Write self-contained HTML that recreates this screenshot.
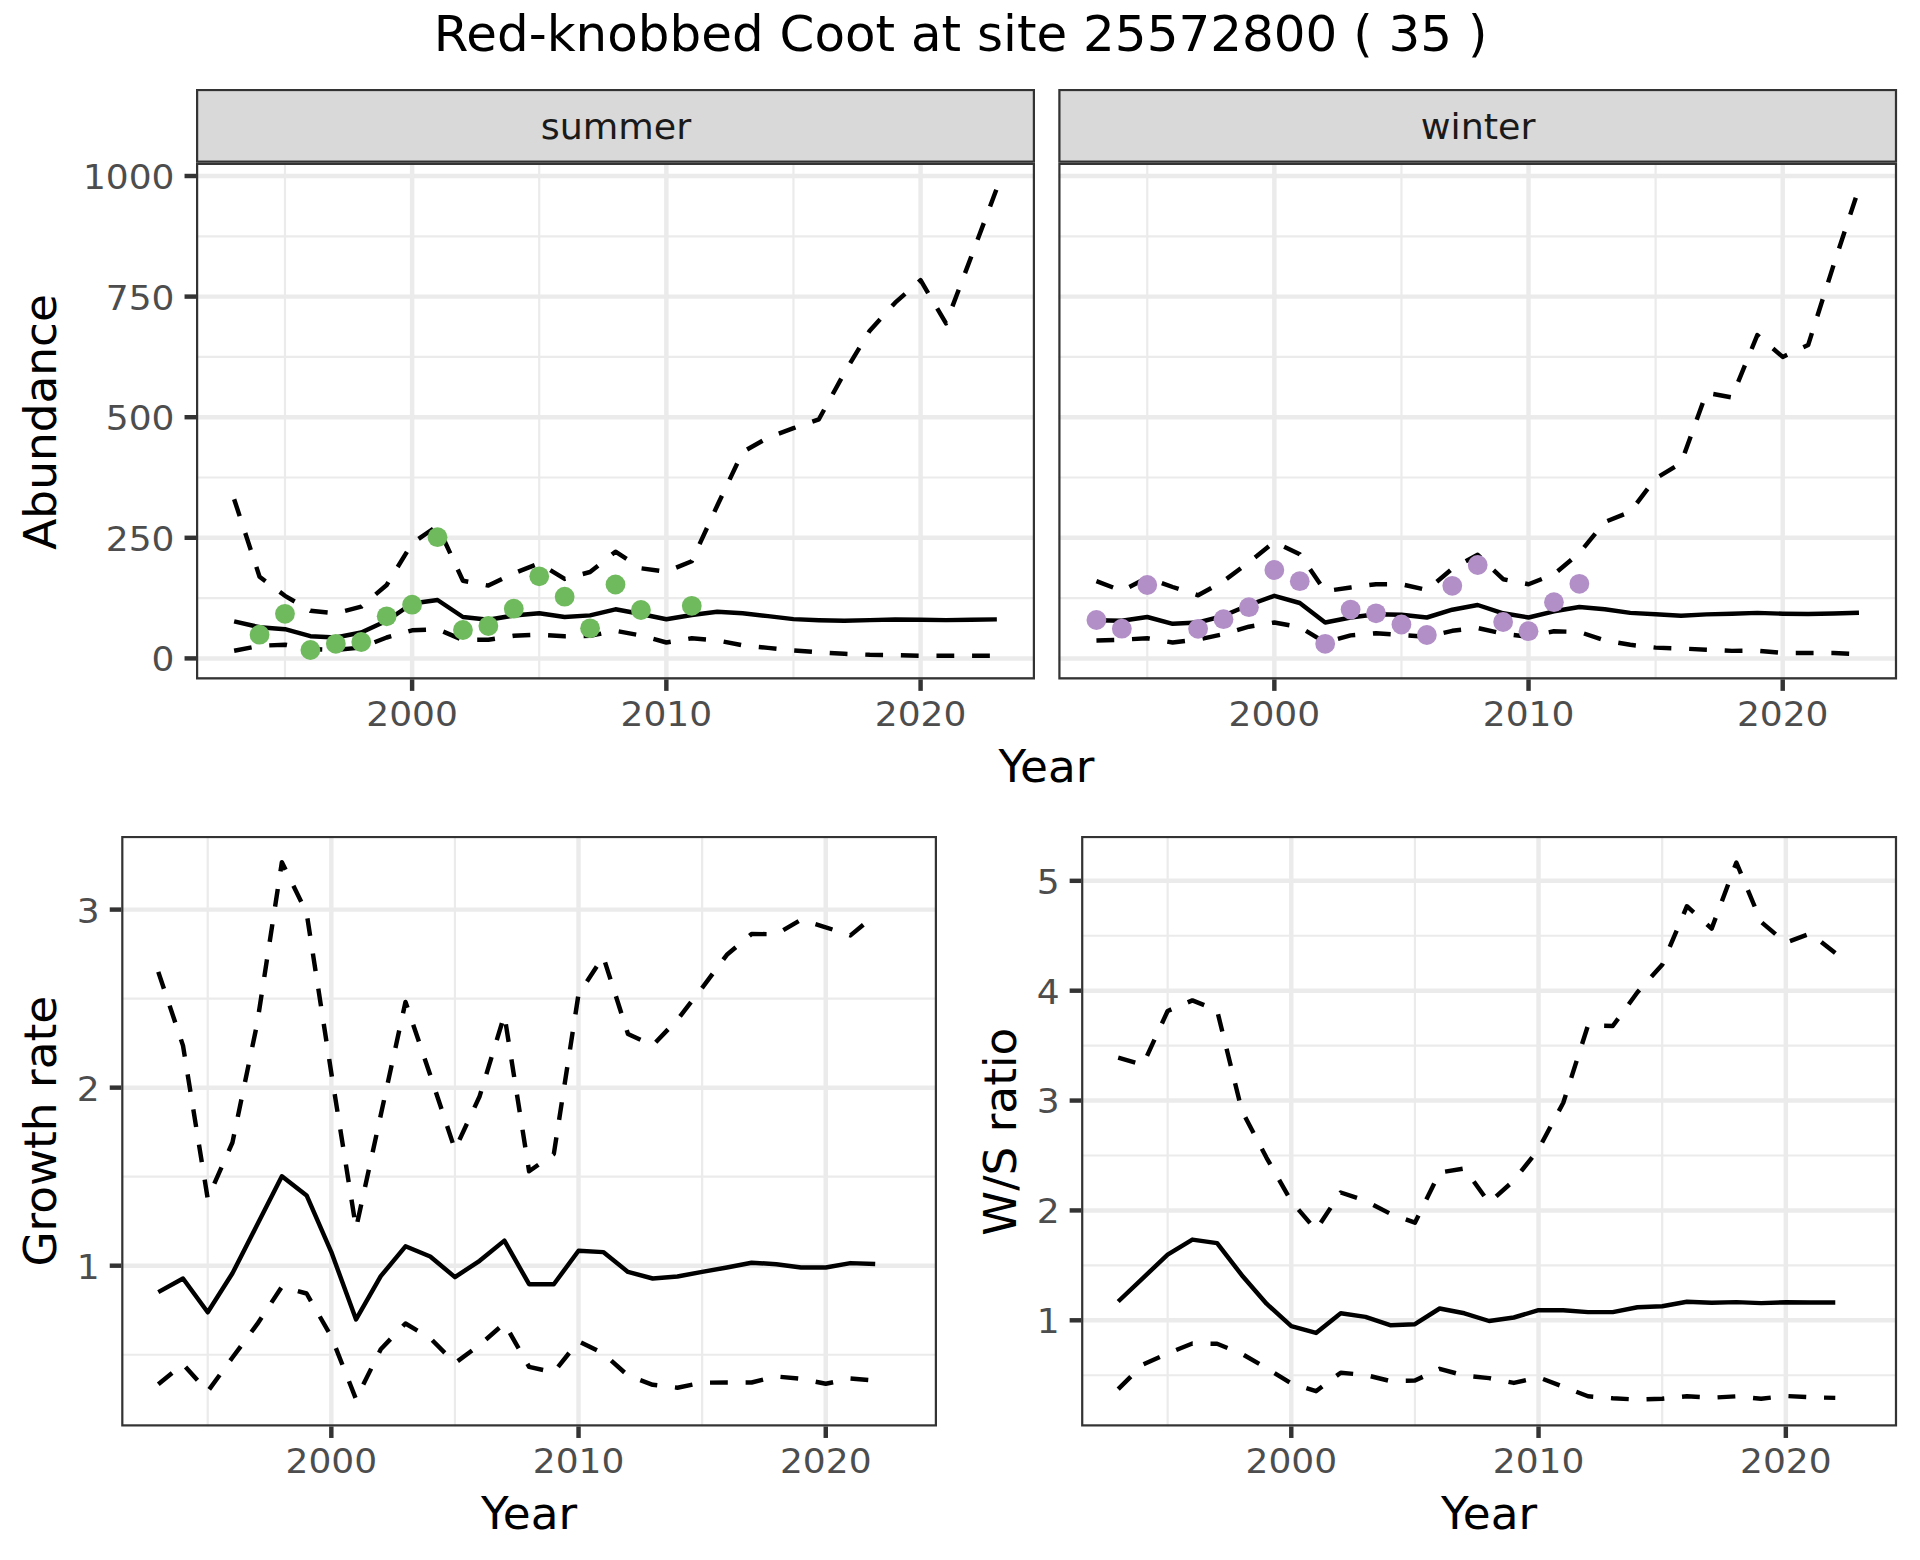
<!DOCTYPE html>
<html lang="en">
<head>
<meta charset="utf-8">
<title>Red-knobbed Coot at site 25572800 ( 35 )</title>
<style>html,body{margin:0;padding:0;background:#fff;overflow:hidden;}svg{display:block;}</style>
</head>
<body>
<svg width="1920" height="1560" viewBox="0 0 1920 1560" font-family='"DejaVu Sans", "Liberation Sans", sans-serif'>
<rect width="1920" height="1560" fill="#FFFFFF"/>
<text transform="translate(960.60,51.10) scale(0.999,1.0)" text-anchor="middle" font-size="50" fill="#000000">Red-knobbed Coot at site 25572800 ( 35 )</text>
<clipPath id="c1"><rect x="196.0" y="162.75" width="839.00" height="516.65"/></clipPath>
<rect x="196.0" y="162.75" width="839.00" height="516.65" fill="#FFFFFF"/>
<g clip-path="url(#c1)">
<line x1="196.0" x2="1035.0" y1="598.10" y2="598.10" stroke="#EBEBEB" stroke-width="2.2"/>
<line x1="196.0" x2="1035.0" y1="477.50" y2="477.50" stroke="#EBEBEB" stroke-width="2.2"/>
<line x1="196.0" x2="1035.0" y1="356.90" y2="356.90" stroke="#EBEBEB" stroke-width="2.2"/>
<line x1="196.0" x2="1035.0" y1="236.30" y2="236.30" stroke="#EBEBEB" stroke-width="2.2"/>
<line y1="162.75" y2="679.4" x1="284.98" x2="284.98" stroke="#EBEBEB" stroke-width="2.2"/>
<line y1="162.75" y2="679.4" x1="539.23" x2="539.23" stroke="#EBEBEB" stroke-width="2.2"/>
<line y1="162.75" y2="679.4" x1="793.47" x2="793.47" stroke="#EBEBEB" stroke-width="2.2"/>
<line x1="196.0" x2="1035.0" y1="658.40" y2="658.40" stroke="#EBEBEB" stroke-width="4.45"/>
<line x1="196.0" x2="1035.0" y1="537.80" y2="537.80" stroke="#EBEBEB" stroke-width="4.45"/>
<line x1="196.0" x2="1035.0" y1="417.20" y2="417.20" stroke="#EBEBEB" stroke-width="4.45"/>
<line x1="196.0" x2="1035.0" y1="296.60" y2="296.60" stroke="#EBEBEB" stroke-width="4.45"/>
<line x1="196.0" x2="1035.0" y1="176.00" y2="176.00" stroke="#EBEBEB" stroke-width="4.45"/>
<line y1="162.75" y2="679.4" x1="412.11" x2="412.11" stroke="#EBEBEB" stroke-width="4.45"/>
<line y1="162.75" y2="679.4" x1="666.35" x2="666.35" stroke="#EBEBEB" stroke-width="4.45"/>
<line y1="162.75" y2="679.4" x1="920.59" x2="920.59" stroke="#EBEBEB" stroke-width="4.45"/>
</g>
<path d="M234.14,621.30 L259.56,627.20 L284.98,629.20 L310.41,636.20 L335.83,637.50 L361.26,632.50 L386.68,620.80 L412.11,603.50 L437.53,600.00 L462.95,617.00 L488.38,619.70 L513.80,615.50 L539.23,613.30 L564.65,617.00 L590.08,615.40 L615.50,609.30 L640.92,614.00 L666.35,619.20 L691.77,615.00 L717.20,611.70 L742.62,613.30 L768.05,616.10 L793.47,619.10 L818.89,620.20 L844.32,620.80 L869.74,620.10 L895.17,619.50 L920.59,619.80 L946.02,620.10 L971.44,619.80 L996.86,619.40" fill="none" stroke="#000000" stroke-width="4.45" stroke-linejoin="round" stroke-linecap="butt" clip-path="url(#c1)"/>
<path d="M234.14,650.80 L259.56,645.80 L284.98,644.70 L310.41,649.00 L335.83,650.00 L361.26,647.50 L386.68,637.50 L412.11,630.30 L437.53,629.20 L462.95,640.00 L488.38,639.70 L513.80,635.80 L539.23,634.70 L564.65,636.20 L590.08,635.80 L615.50,630.80 L640.92,635.50 L666.35,642.50 L691.77,638.30 L717.20,640.30 L742.62,645.30 L768.05,647.90 L793.47,650.40 L818.89,652.30 L844.32,653.80 L869.74,654.80 L895.17,655.20 L920.59,655.70 L946.02,655.80 L971.44,655.80 L996.86,655.80" fill="none" stroke="#000000" stroke-width="4.45" stroke-linejoin="round" stroke-linecap="butt" stroke-dasharray="17.8 17.8" clip-path="url(#c1)"/>
<path d="M234.14,499.20 L259.56,576.70 L284.98,595.80 L310.41,610.80 L335.83,613.30 L361.26,606.70 L386.68,585.00 L412.11,543.30 L437.53,525.80 L462.95,580.80 L488.38,585.60 L513.80,573.30 L539.23,563.30 L564.65,578.90 L590.08,572.00 L615.50,551.70 L640.92,568.30 L666.35,571.70 L691.77,561.20 L717.20,505.70 L742.62,452.10 L768.05,437.60 L793.47,428.20 L818.89,419.30 L844.32,373.00 L869.74,330.70 L895.17,302.70 L920.59,280.20 L946.02,323.40 L971.44,256.10 L996.86,188.30" fill="none" stroke="#000000" stroke-width="4.45" stroke-linejoin="round" stroke-linecap="butt" stroke-dasharray="17.8 17.8" clip-path="url(#c1)"/>
<circle cx="259.56" cy="634.70" r="9.9" fill="#70BA5E"/>
<circle cx="284.98" cy="613.80" r="9.9" fill="#70BA5E"/>
<circle cx="310.41" cy="650.00" r="9.9" fill="#70BA5E"/>
<circle cx="335.83" cy="643.80" r="9.9" fill="#70BA5E"/>
<circle cx="361.26" cy="642.00" r="9.9" fill="#70BA5E"/>
<circle cx="386.68" cy="616.30" r="9.9" fill="#70BA5E"/>
<circle cx="412.11" cy="604.70" r="9.9" fill="#70BA5E"/>
<circle cx="437.53" cy="537.20" r="9.9" fill="#70BA5E"/>
<circle cx="462.95" cy="630.00" r="9.9" fill="#70BA5E"/>
<circle cx="488.38" cy="626.00" r="9.9" fill="#70BA5E"/>
<circle cx="513.80" cy="608.70" r="9.9" fill="#70BA5E"/>
<circle cx="539.23" cy="576.30" r="9.9" fill="#70BA5E"/>
<circle cx="564.65" cy="596.70" r="9.9" fill="#70BA5E"/>
<circle cx="590.08" cy="628.30" r="9.9" fill="#70BA5E"/>
<circle cx="615.50" cy="584.50" r="9.9" fill="#70BA5E"/>
<circle cx="640.92" cy="610.00" r="9.9" fill="#70BA5E"/>
<circle cx="691.77" cy="605.80" r="9.9" fill="#70BA5E"/>
<rect x="196.0" y="162.75" width="839.00" height="516.65" fill="none" stroke="#333333" stroke-width="4.45" clip-path="url(#c1)"/>
<clipPath id="c2"><rect x="196.0" y="88.9" width="839.00" height="73.85"/></clipPath>
<rect x="196.0" y="88.9" width="839.00" height="73.85" fill="#D9D9D9" stroke="#333333" stroke-width="4.45" clip-path="url(#c2)"/>
<text transform="translate(615.90,138.80) scale(0.994,0.95)" text-anchor="middle" font-size="36.67" fill="#1A1A1A">summer</text>
<line x1="412.11" x2="412.11" y1="679.4" y2="690.86" stroke="#333333" stroke-width="4.45"/>
<text transform="translate(412.11,725.80) scale(0.982,0.935)" text-anchor="middle" font-size="36.67" fill="#4D4D4D">2000</text>
<line x1="666.35" x2="666.35" y1="679.4" y2="690.86" stroke="#333333" stroke-width="4.45"/>
<text transform="translate(666.35,725.80) scale(0.982,0.935)" text-anchor="middle" font-size="36.67" fill="#4D4D4D">2010</text>
<line x1="920.59" x2="920.59" y1="679.4" y2="690.86" stroke="#333333" stroke-width="4.45"/>
<text transform="translate(920.59,725.80) scale(0.982,0.935)" text-anchor="middle" font-size="36.67" fill="#4D4D4D">2020</text>
<line x1="184.54" x2="196.0" y1="658.40" y2="658.40" stroke="#333333" stroke-width="4.45"/>
<text transform="translate(174.50,671.30) scale(0.982,0.935)" text-anchor="end" font-size="36.67" fill="#4D4D4D">0</text>
<line x1="184.54" x2="196.0" y1="537.80" y2="537.80" stroke="#333333" stroke-width="4.45"/>
<text transform="translate(174.50,550.70) scale(0.982,0.935)" text-anchor="end" font-size="36.67" fill="#4D4D4D">250</text>
<line x1="184.54" x2="196.0" y1="417.20" y2="417.20" stroke="#333333" stroke-width="4.45"/>
<text transform="translate(174.50,430.10) scale(0.982,0.935)" text-anchor="end" font-size="36.67" fill="#4D4D4D">500</text>
<line x1="184.54" x2="196.0" y1="296.60" y2="296.60" stroke="#333333" stroke-width="4.45"/>
<text transform="translate(174.50,309.50) scale(0.982,0.935)" text-anchor="end" font-size="36.67" fill="#4D4D4D">750</text>
<line x1="184.54" x2="196.0" y1="176.00" y2="176.00" stroke="#333333" stroke-width="4.45"/>
<text transform="translate(174.50,188.90) scale(0.982,0.935)" text-anchor="end" font-size="36.67" fill="#4D4D4D">1000</text>
<clipPath id="c3"><rect x="1058.3" y="162.75" width="838.80" height="516.65"/></clipPath>
<rect x="1058.3" y="162.75" width="838.80" height="516.65" fill="#FFFFFF"/>
<g clip-path="url(#c3)">
<line x1="1058.3" x2="1897.1" y1="598.10" y2="598.10" stroke="#EBEBEB" stroke-width="2.2"/>
<line x1="1058.3" x2="1897.1" y1="477.50" y2="477.50" stroke="#EBEBEB" stroke-width="2.2"/>
<line x1="1058.3" x2="1897.1" y1="356.90" y2="356.90" stroke="#EBEBEB" stroke-width="2.2"/>
<line x1="1058.3" x2="1897.1" y1="236.30" y2="236.30" stroke="#EBEBEB" stroke-width="2.2"/>
<line y1="162.75" y2="679.4" x1="1147.26" x2="1147.26" stroke="#EBEBEB" stroke-width="2.2"/>
<line y1="162.75" y2="679.4" x1="1401.45" x2="1401.45" stroke="#EBEBEB" stroke-width="2.2"/>
<line y1="162.75" y2="679.4" x1="1655.63" x2="1655.63" stroke="#EBEBEB" stroke-width="2.2"/>
<line x1="1058.3" x2="1897.1" y1="658.40" y2="658.40" stroke="#EBEBEB" stroke-width="4.45"/>
<line x1="1058.3" x2="1897.1" y1="537.80" y2="537.80" stroke="#EBEBEB" stroke-width="4.45"/>
<line x1="1058.3" x2="1897.1" y1="417.20" y2="417.20" stroke="#EBEBEB" stroke-width="4.45"/>
<line x1="1058.3" x2="1897.1" y1="296.60" y2="296.60" stroke="#EBEBEB" stroke-width="4.45"/>
<line x1="1058.3" x2="1897.1" y1="176.00" y2="176.00" stroke="#EBEBEB" stroke-width="4.45"/>
<line y1="162.75" y2="679.4" x1="1274.35" x2="1274.35" stroke="#EBEBEB" stroke-width="4.45"/>
<line y1="162.75" y2="679.4" x1="1528.54" x2="1528.54" stroke="#EBEBEB" stroke-width="4.45"/>
<line y1="162.75" y2="679.4" x1="1782.72" x2="1782.72" stroke="#EBEBEB" stroke-width="4.45"/>
</g>
<path d="M1096.43,620.30 L1121.85,620.80 L1147.26,617.00 L1172.68,623.80 L1198.10,622.50 L1223.52,615.80 L1248.94,605.00 L1274.35,595.80 L1299.77,603.00 L1325.19,622.50 L1350.61,617.50 L1376.03,614.20 L1401.45,614.70 L1426.86,617.50 L1452.28,609.70 L1477.70,605.00 L1503.12,613.30 L1528.54,617.50 L1553.95,611.30 L1579.37,607.00 L1604.79,609.20 L1630.21,612.90 L1655.63,614.30 L1681.05,615.70 L1706.46,614.40 L1731.88,613.70 L1757.30,612.90 L1782.72,613.70 L1808.14,614.00 L1833.55,613.50 L1858.97,612.80" fill="none" stroke="#000000" stroke-width="4.45" stroke-linejoin="round" stroke-linecap="butt" clip-path="url(#c3)"/>
<path d="M1096.43,640.50 L1121.85,639.70 L1147.26,638.30 L1172.68,642.50 L1198.10,639.50 L1223.52,634.20 L1248.94,626.70 L1274.35,622.50 L1299.77,627.20 L1325.19,642.50 L1350.61,635.40 L1376.03,633.30 L1401.45,635.00 L1426.86,636.70 L1452.28,630.80 L1477.70,628.00 L1503.12,633.70 L1528.54,636.70 L1553.95,631.30 L1579.37,632.00 L1604.79,640.30 L1630.21,644.80 L1655.63,647.60 L1681.05,648.50 L1706.46,649.70 L1731.88,650.90 L1757.30,650.70 L1782.72,653.00 L1808.14,653.00 L1833.55,653.00 L1858.97,654.10" fill="none" stroke="#000000" stroke-width="4.45" stroke-linejoin="round" stroke-linecap="butt" stroke-dasharray="17.8 17.8" clip-path="url(#c3)"/>
<path d="M1096.43,581.20 L1121.85,590.80 L1147.26,577.80 L1172.68,587.00 L1198.10,595.30 L1223.52,581.20 L1248.94,562.20 L1274.35,542.00 L1299.77,554.20 L1325.19,591.20 L1350.61,587.50 L1376.03,584.20 L1401.45,584.20 L1426.86,590.00 L1452.28,568.70 L1477.70,554.80 L1503.12,579.20 L1528.54,584.20 L1553.95,574.20 L1579.37,553.20 L1604.79,522.00 L1630.21,511.90 L1655.63,478.40 L1681.05,463.10 L1706.46,392.80 L1731.88,397.40 L1757.30,335.10 L1782.72,356.90 L1808.14,345.10 L1833.55,265.10 L1858.97,188.20" fill="none" stroke="#000000" stroke-width="4.45" stroke-linejoin="round" stroke-linecap="butt" stroke-dasharray="17.8 17.8" clip-path="url(#c3)"/>
<circle cx="1096.43" cy="620.00" r="9.9" fill="#B28FC7"/>
<circle cx="1121.85" cy="628.70" r="9.9" fill="#B28FC7"/>
<circle cx="1147.26" cy="585.00" r="9.9" fill="#B28FC7"/>
<circle cx="1198.10" cy="628.80" r="9.9" fill="#B28FC7"/>
<circle cx="1223.52" cy="619.20" r="9.9" fill="#B28FC7"/>
<circle cx="1248.94" cy="607.20" r="9.9" fill="#B28FC7"/>
<circle cx="1274.35" cy="570.00" r="9.9" fill="#B28FC7"/>
<circle cx="1299.77" cy="581.20" r="9.9" fill="#B28FC7"/>
<circle cx="1325.19" cy="643.80" r="9.9" fill="#B28FC7"/>
<circle cx="1350.61" cy="609.60" r="9.9" fill="#B28FC7"/>
<circle cx="1376.03" cy="613.30" r="9.9" fill="#B28FC7"/>
<circle cx="1401.45" cy="624.50" r="9.9" fill="#B28FC7"/>
<circle cx="1426.86" cy="635.00" r="9.9" fill="#B28FC7"/>
<circle cx="1452.28" cy="585.80" r="9.9" fill="#B28FC7"/>
<circle cx="1477.70" cy="565.00" r="9.9" fill="#B28FC7"/>
<circle cx="1503.12" cy="622.00" r="9.9" fill="#B28FC7"/>
<circle cx="1528.54" cy="631.20" r="9.9" fill="#B28FC7"/>
<circle cx="1553.95" cy="602.20" r="9.9" fill="#B28FC7"/>
<circle cx="1579.37" cy="583.80" r="9.9" fill="#B28FC7"/>
<rect x="1058.3" y="162.75" width="838.80" height="516.65" fill="none" stroke="#333333" stroke-width="4.45" clip-path="url(#c3)"/>
<clipPath id="c4"><rect x="1058.3" y="88.9" width="838.80" height="73.85"/></clipPath>
<rect x="1058.3" y="88.9" width="838.80" height="73.85" fill="#D9D9D9" stroke="#333333" stroke-width="4.45" clip-path="url(#c4)"/>
<text transform="translate(1478.10,138.80) scale(0.994,0.95)" text-anchor="middle" font-size="36.67" fill="#1A1A1A">winter</text>
<line x1="1274.35" x2="1274.35" y1="679.4" y2="690.86" stroke="#333333" stroke-width="4.45"/>
<text transform="translate(1274.35,725.80) scale(0.982,0.935)" text-anchor="middle" font-size="36.67" fill="#4D4D4D">2000</text>
<line x1="1528.54" x2="1528.54" y1="679.4" y2="690.86" stroke="#333333" stroke-width="4.45"/>
<text transform="translate(1528.54,725.80) scale(0.982,0.935)" text-anchor="middle" font-size="36.67" fill="#4D4D4D">2010</text>
<line x1="1782.72" x2="1782.72" y1="679.4" y2="690.86" stroke="#333333" stroke-width="4.45"/>
<text transform="translate(1782.72,725.80) scale(0.982,0.935)" text-anchor="middle" font-size="36.67" fill="#4D4D4D">2020</text>
<text transform="translate(1046.40,782.20) scale(0.99,0.965)" text-anchor="middle" font-size="45.83" fill="#000000">Year</text>
<text transform="translate(56.20,421.90) rotate(-90) scale(0.99,0.965)" text-anchor="middle" font-size="45.83" fill="#000000">Abundance</text>
<clipPath id="c5"><rect x="121.2" y="835.9" width="815.80" height="590.60"/></clipPath>
<rect x="121.2" y="835.9" width="815.80" height="590.60" fill="#FFFFFF"/>
<g clip-path="url(#c5)">
<line x1="121.2" x2="937.0" y1="1354.73" y2="1354.73" stroke="#EBEBEB" stroke-width="2.2"/>
<line x1="121.2" x2="937.0" y1="1176.67" y2="1176.67" stroke="#EBEBEB" stroke-width="2.2"/>
<line x1="121.2" x2="937.0" y1="998.62" y2="998.62" stroke="#EBEBEB" stroke-width="2.2"/>
<line y1="835.9" y2="1426.5" x1="207.72" x2="207.72" stroke="#EBEBEB" stroke-width="2.2"/>
<line y1="835.9" y2="1426.5" x1="454.94" x2="454.94" stroke="#EBEBEB" stroke-width="2.2"/>
<line y1="835.9" y2="1426.5" x1="702.15" x2="702.15" stroke="#EBEBEB" stroke-width="2.2"/>
<line x1="121.2" x2="937.0" y1="1265.70" y2="1265.70" stroke="#EBEBEB" stroke-width="4.45"/>
<line x1="121.2" x2="937.0" y1="1087.65" y2="1087.65" stroke="#EBEBEB" stroke-width="4.45"/>
<line x1="121.2" x2="937.0" y1="909.60" y2="909.60" stroke="#EBEBEB" stroke-width="4.45"/>
<line y1="835.9" y2="1426.5" x1="331.33" x2="331.33" stroke="#EBEBEB" stroke-width="4.45"/>
<line y1="835.9" y2="1426.5" x1="578.54" x2="578.54" stroke="#EBEBEB" stroke-width="4.45"/>
<line y1="835.9" y2="1426.5" x1="825.75" x2="825.75" stroke="#EBEBEB" stroke-width="4.45"/>
</g>
<path d="M158.28,1292.10 L183.00,1278.50 L207.72,1312.30 L232.45,1273.30 L257.17,1224.80 L281.89,1176.20 L306.61,1195.40 L331.33,1252.10 L356.05,1319.40 L380.77,1276.20 L405.49,1246.30 L430.22,1256.50 L454.94,1277.10 L479.66,1260.80 L504.38,1240.60 L529.10,1284.20 L553.82,1284.20 L578.54,1250.80 L603.26,1252.10 L627.98,1271.90 L652.71,1278.50 L677.43,1276.50 L702.15,1271.90 L726.87,1267.50 L751.59,1262.70 L776.31,1264.20 L801.03,1267.50 L825.75,1267.50 L850.48,1263.10 L875.20,1264.00" fill="none" stroke="#000000" stroke-width="4.45" stroke-linejoin="round" stroke-linecap="butt" clip-path="url(#c5)"/>
<path d="M158.28,1384.20 L183.00,1364.20 L207.72,1391.50 L232.45,1357.50 L257.17,1324.20 L281.89,1286.70 L306.61,1293.50 L331.33,1336.70 L356.05,1399.20 L380.77,1349.20 L405.49,1323.50 L430.22,1338.10 L454.94,1363.10 L479.66,1345.00 L504.38,1323.30 L529.10,1366.90 L553.82,1372.30 L578.54,1341.20 L603.26,1353.50 L627.98,1375.60 L652.71,1384.80 L677.43,1387.70 L702.15,1382.70 L726.87,1382.50 L751.59,1382.50 L776.31,1376.50 L801.03,1378.80 L825.75,1383.80 L850.48,1378.50 L875.20,1380.60" fill="none" stroke="#000000" stroke-width="4.45" stroke-linejoin="round" stroke-linecap="butt" stroke-dasharray="17.8 17.8" clip-path="url(#c5)"/>
<path d="M158.28,971.90 L183.00,1045.60 L207.72,1198.70 L232.45,1142.50 L257.17,1023.50 L281.89,862.20 L306.61,912.90 L331.33,1073.10 L356.05,1228.30 L380.77,1115.00 L405.49,1001.90 L430.22,1075.00 L454.94,1149.60 L479.66,1096.20 L504.38,1015.00 L529.10,1171.30 L553.82,1154.00 L578.54,994.20 L603.26,956.70 L627.98,1034.00 L652.71,1045.40 L677.43,1019.60 L702.15,987.90 L726.87,954.80 L751.59,934.00 L776.31,934.20 L801.03,919.80 L825.75,927.30 L850.48,935.40 L875.20,915.00" fill="none" stroke="#000000" stroke-width="4.45" stroke-linejoin="round" stroke-linecap="butt" stroke-dasharray="17.8 17.8" clip-path="url(#c5)"/>
<rect x="121.2" y="835.9" width="815.80" height="590.60" fill="none" stroke="#333333" stroke-width="4.45" clip-path="url(#c5)"/>
<line x1="331.33" x2="331.33" y1="1426.5" y2="1437.96" stroke="#333333" stroke-width="4.45"/>
<text transform="translate(331.33,1472.90) scale(0.982,0.935)" text-anchor="middle" font-size="36.67" fill="#4D4D4D">2000</text>
<line x1="578.54" x2="578.54" y1="1426.5" y2="1437.96" stroke="#333333" stroke-width="4.45"/>
<text transform="translate(578.54,1472.90) scale(0.982,0.935)" text-anchor="middle" font-size="36.67" fill="#4D4D4D">2010</text>
<line x1="825.75" x2="825.75" y1="1426.5" y2="1437.96" stroke="#333333" stroke-width="4.45"/>
<text transform="translate(825.75,1472.90) scale(0.982,0.935)" text-anchor="middle" font-size="36.67" fill="#4D4D4D">2020</text>
<line x1="109.74" x2="121.2" y1="1265.70" y2="1265.70" stroke="#333333" stroke-width="4.45"/>
<text transform="translate(99.70,1278.60) scale(0.982,0.935)" text-anchor="end" font-size="36.67" fill="#4D4D4D">1</text>
<line x1="109.74" x2="121.2" y1="1087.65" y2="1087.65" stroke="#333333" stroke-width="4.45"/>
<text transform="translate(99.70,1100.55) scale(0.982,0.935)" text-anchor="end" font-size="36.67" fill="#4D4D4D">2</text>
<line x1="109.74" x2="121.2" y1="909.60" y2="909.60" stroke="#333333" stroke-width="4.45"/>
<text transform="translate(99.70,922.50) scale(0.982,0.935)" text-anchor="end" font-size="36.67" fill="#4D4D4D">3</text>
<text transform="translate(529.10,1529.00) scale(0.99,0.965)" text-anchor="middle" font-size="45.83" fill="#000000">Year</text>
<text transform="translate(55.80,1131.20) rotate(-90) scale(0.99,0.965)" text-anchor="middle" font-size="45.83" fill="#000000">Growth rate</text>
<clipPath id="c6"><rect x="1081.1" y="835.9" width="816.00" height="590.60"/></clipPath>
<rect x="1081.1" y="835.9" width="816.00" height="590.60" fill="#FFFFFF"/>
<g clip-path="url(#c6)">
<line x1="1081.1" x2="1897.1" y1="1375.23" y2="1375.23" stroke="#EBEBEB" stroke-width="2.2"/>
<line x1="1081.1" x2="1897.1" y1="1265.37" y2="1265.37" stroke="#EBEBEB" stroke-width="2.2"/>
<line x1="1081.1" x2="1897.1" y1="1155.49" y2="1155.49" stroke="#EBEBEB" stroke-width="2.2"/>
<line x1="1081.1" x2="1897.1" y1="1045.62" y2="1045.62" stroke="#EBEBEB" stroke-width="2.2"/>
<line x1="1081.1" x2="1897.1" y1="935.75" y2="935.75" stroke="#EBEBEB" stroke-width="2.2"/>
<line y1="835.9" y2="1426.5" x1="1167.65" x2="1167.65" stroke="#EBEBEB" stroke-width="2.2"/>
<line y1="835.9" y2="1426.5" x1="1414.92" x2="1414.92" stroke="#EBEBEB" stroke-width="2.2"/>
<line y1="835.9" y2="1426.5" x1="1662.19" x2="1662.19" stroke="#EBEBEB" stroke-width="2.2"/>
<line x1="1081.1" x2="1897.1" y1="1320.30" y2="1320.30" stroke="#EBEBEB" stroke-width="4.45"/>
<line x1="1081.1" x2="1897.1" y1="1210.43" y2="1210.43" stroke="#EBEBEB" stroke-width="4.45"/>
<line x1="1081.1" x2="1897.1" y1="1100.56" y2="1100.56" stroke="#EBEBEB" stroke-width="4.45"/>
<line x1="1081.1" x2="1897.1" y1="990.69" y2="990.69" stroke="#EBEBEB" stroke-width="4.45"/>
<line x1="1081.1" x2="1897.1" y1="880.82" y2="880.82" stroke="#EBEBEB" stroke-width="4.45"/>
<line y1="835.9" y2="1426.5" x1="1291.28" x2="1291.28" stroke="#EBEBEB" stroke-width="4.45"/>
<line y1="835.9" y2="1426.5" x1="1538.55" x2="1538.55" stroke="#EBEBEB" stroke-width="4.45"/>
<line y1="835.9" y2="1426.5" x1="1785.83" x2="1785.83" stroke="#EBEBEB" stroke-width="4.45"/>
</g>
<path d="M1118.19,1301.50 L1142.92,1278.10 L1167.65,1254.60 L1192.37,1239.60 L1217.10,1243.10 L1241.83,1275.20 L1266.55,1303.70 L1291.28,1326.20 L1316.01,1332.90 L1340.74,1313.30 L1365.46,1316.90 L1390.19,1325.20 L1414.92,1324.20 L1439.65,1308.50 L1464.37,1313.30 L1489.10,1321.00 L1513.83,1317.50 L1538.55,1310.20 L1563.28,1310.20 L1588.01,1312.10 L1612.74,1312.10 L1637.46,1307.30 L1662.19,1306.30 L1686.92,1301.70 L1711.65,1302.70 L1736.37,1302.10 L1761.10,1303.10 L1785.83,1302.30 L1810.55,1302.50 L1835.28,1302.50" fill="none" stroke="#000000" stroke-width="4.45" stroke-linejoin="round" stroke-linecap="butt" clip-path="url(#c6)"/>
<path d="M1118.19,1389.20 L1142.92,1364.60 L1167.65,1353.50 L1192.37,1343.50 L1217.10,1343.80 L1241.83,1353.80 L1266.55,1368.10 L1291.28,1383.50 L1316.01,1391.20 L1340.74,1372.70 L1365.46,1375.00 L1390.19,1381.00 L1414.92,1380.60 L1439.65,1368.80 L1464.37,1375.60 L1489.10,1378.10 L1513.83,1382.90 L1538.55,1377.30 L1563.28,1386.70 L1588.01,1396.30 L1612.74,1398.30 L1637.46,1399.60 L1662.19,1398.70 L1686.92,1396.30 L1711.65,1397.70 L1736.37,1396.30 L1761.10,1398.70 L1785.83,1396.00 L1810.55,1397.30 L1835.28,1397.90" fill="none" stroke="#000000" stroke-width="4.45" stroke-linejoin="round" stroke-linecap="butt" stroke-dasharray="17.8 17.8" clip-path="url(#c6)"/>
<path d="M1118.19,1057.70 L1142.92,1064.80 L1167.65,1011.00 L1192.37,1000.40 L1217.10,1010.40 L1241.83,1110.60 L1266.55,1157.80 L1291.28,1201.20 L1316.01,1230.00 L1340.74,1192.50 L1365.46,1200.80 L1390.19,1213.70 L1414.92,1222.70 L1439.65,1172.50 L1464.37,1168.50 L1489.10,1202.70 L1513.83,1180.60 L1538.55,1149.20 L1563.28,1102.70 L1588.01,1025.40 L1612.74,1026.00 L1637.46,992.30 L1662.19,964.80 L1686.92,906.20 L1711.65,928.60 L1736.37,862.50 L1761.10,921.90 L1785.83,942.70 L1810.55,933.50 L1835.28,952.90" fill="none" stroke="#000000" stroke-width="4.45" stroke-linejoin="round" stroke-linecap="butt" stroke-dasharray="17.8 17.8" clip-path="url(#c6)"/>
<rect x="1081.1" y="835.9" width="816.00" height="590.60" fill="none" stroke="#333333" stroke-width="4.45" clip-path="url(#c6)"/>
<line x1="1291.28" x2="1291.28" y1="1426.5" y2="1437.96" stroke="#333333" stroke-width="4.45"/>
<text transform="translate(1291.28,1472.90) scale(0.982,0.935)" text-anchor="middle" font-size="36.67" fill="#4D4D4D">2000</text>
<line x1="1538.55" x2="1538.55" y1="1426.5" y2="1437.96" stroke="#333333" stroke-width="4.45"/>
<text transform="translate(1538.55,1472.90) scale(0.982,0.935)" text-anchor="middle" font-size="36.67" fill="#4D4D4D">2010</text>
<line x1="1785.83" x2="1785.83" y1="1426.5" y2="1437.96" stroke="#333333" stroke-width="4.45"/>
<text transform="translate(1785.83,1472.90) scale(0.982,0.935)" text-anchor="middle" font-size="36.67" fill="#4D4D4D">2020</text>
<line x1="1069.64" x2="1081.1" y1="1320.30" y2="1320.30" stroke="#333333" stroke-width="4.45"/>
<text transform="translate(1059.60,1333.20) scale(0.982,0.935)" text-anchor="end" font-size="36.67" fill="#4D4D4D">1</text>
<line x1="1069.64" x2="1081.1" y1="1210.43" y2="1210.43" stroke="#333333" stroke-width="4.45"/>
<text transform="translate(1059.60,1223.33) scale(0.982,0.935)" text-anchor="end" font-size="36.67" fill="#4D4D4D">2</text>
<line x1="1069.64" x2="1081.1" y1="1100.56" y2="1100.56" stroke="#333333" stroke-width="4.45"/>
<text transform="translate(1059.60,1113.46) scale(0.982,0.935)" text-anchor="end" font-size="36.67" fill="#4D4D4D">3</text>
<line x1="1069.64" x2="1081.1" y1="990.69" y2="990.69" stroke="#333333" stroke-width="4.45"/>
<text transform="translate(1059.60,1003.59) scale(0.982,0.935)" text-anchor="end" font-size="36.67" fill="#4D4D4D">4</text>
<line x1="1069.64" x2="1081.1" y1="880.82" y2="880.82" stroke="#333333" stroke-width="4.45"/>
<text transform="translate(1059.60,893.72) scale(0.982,0.935)" text-anchor="end" font-size="36.67" fill="#4D4D4D">5</text>
<text transform="translate(1489.10,1529.00) scale(0.99,0.965)" text-anchor="middle" font-size="45.83" fill="#000000">Year</text>
<text transform="translate(1016.20,1131.70) rotate(-90) scale(0.99,0.965)" text-anchor="middle" font-size="45.83" fill="#000000">W/S ratio</text>
</svg>
</body>
</html>
